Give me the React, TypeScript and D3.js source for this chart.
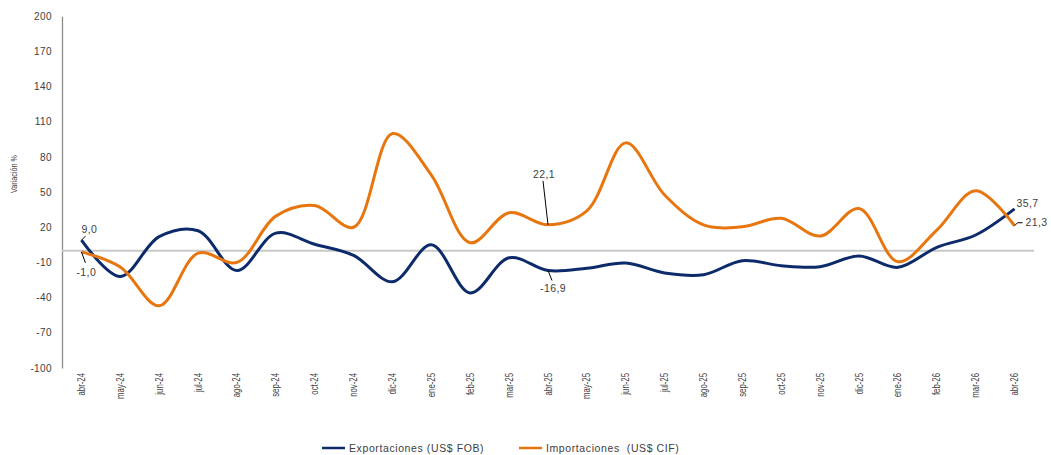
import React, { useEffect, useRef } from "react";
import * as d3 from "d3";

const months = [
  "abr-24", "may-24", "jun-24", "jul-24", "ago-24", "sep-24", "oct-24", "nov-24", "dic-24",
  "ene-25", "feb-25", "mar-25", "abr-25", "may-25", "jun-25", "jul-25", "ago-25", "sep-25",
  "oct-25", "nov-25", "dic-25", "ene-26", "feb-26", "mar-26", "abr-26",
];

const exportaciones = [
  9.0, -22, 12, 17, -17, 15, 5.5, -4, -26.5, 5, -36, -6, -16.9, -15, -10.5, -19,
  -20.5, -8.5, -12.8, -13.6, -4.5, -14.2, 2.9, 13.4, 35.7,
];

const importaciones = [
  -1.0, -14, -47, -2, -10, 29.5, 38.5, 20, 100, 64.5, 6.8, 32.4, 22.1, 34, 92, 47.5,
  22, 20.5, 27.6, 12.5, 36, -9.4, 17.6, 51.2, 21.3,
];

const yTicks = [200, 170, 140, 110, 80, 50, 20, -10, -40, -70, -100];

const seriesNames = ["Exportaciones (US$ FOB)", "Importaciones  (US$ CIF)"];
const seriesColors = ["#0d2b6b", "#e8760f"];

const fmt = (v: number) => v.toFixed(1).replace(".", ",");

export default function App() {
  const ref = useRef<SVGSVGElement>(null);

  useEffect(() => {
    const svg = d3.select(ref.current);
    svg.selectAll("*").remove();
    const font = "'Liberation Sans', Arial, sans-serif";

    const x = d3.scaleBand<string>().domain(months).range([62, 1034]);
    const cx = (m: string) => (x(m) as number) + x.bandwidth() / 2;
    const y = d3.scaleLinear().domain([-100, 200]).range([367.9, 16.3]);

    // y axis
    const yAxis = d3
      .axisLeft(y)
      .tickValues(yTicks)
      .tickSize(0)
      .tickPadding(10)
      .tickFormat((d) => String(d));
    const gy = svg.append("g").attr("transform", "translate(62,0)").call(yAxis);
    gy.select(".domain").attr("stroke", "#8c8c8c").attr("stroke-width", 1.3);
    gy.selectAll("text")
      .attr("font-family", font)
      .attr("font-size", 10)
      .attr("letter-spacing", 0.4)
      .attr("fill", "#404040");

    // y title
    svg
      .append("text")
      .attr("transform", "translate(17,174) rotate(-90) scale(0.8,1)")
      .attr("text-anchor", "middle")
      .attr("font-family", font)
      .attr("font-size", 9)
      .attr("fill", "#404040")
      .text("Variación %");

    // zero line
    svg
      .append("line")
      .attr("x1", 62)
      .attr("x2", 1034)
      .attr("y1", y(0))
      .attr("y2", y(0))
      .attr("stroke", "#c8c8c8")
      .attr("stroke-width", 2);

    // x labels
    svg
      .append("g")
      .selectAll("text")
      .data(months)
      .join("text")
      .attr("transform", (m) => `translate(${cx(m)},373) rotate(-90) scale(0.78,1)`)
      .attr("text-anchor", "end")
      .attr("dy", "0.35em")
      .attr("font-family", font)
      .attr("font-size", 10)
      .attr("fill", "#404040")
      .text((m) => m);

    // lines
    const line = d3
      .line<number>()
      .x((_, i) => cx(months[i]))
      .y((d) => y(d))
      .curve(d3.curveCatmullRom.alpha(0.5));

    [exportaciones, importaciones].forEach((data, k) => {
      svg
        .append("path")
        .datum(data)
        .attr("d", line)
        .attr("fill", "none")
        .attr("stroke", seriesColors[k])
        .attr("stroke-width", 3)
        .attr("stroke-linejoin", "round");
    });

    // data labels
    const lab = svg
      .append("g")
      .attr("font-family", font)
      .attr("font-size", 10.5)
      .attr("letter-spacing", 0.4)
      .attr("fill", "#404040");
    const leader = (x1: number, y1: number, x2: number, y2: number) =>
      lab.append("line").attr("x1", x1).attr("y1", y1).attr("x2", x2).attr("y2", y2)
        .attr("stroke", "#000").attr("stroke-width", 1);

    const first = months[0];
    const last = months[months.length - 1];
    const mid = months[12];
    const nLast = exportaciones.length - 1;

    // 9,0
    {
      const px = cx(first), py = y(exportaciones[0]);
      leader(px, py, px + 4, py - 4);
      lab.append("text").attr("x", px).attr("y", py - 7).text(fmt(exportaciones[0]));
    }
    // -1,0
    {
      const px = cx(first), py = y(importaciones[0]);
      leader(px, py, px + 4, py + 11);
      lab.append("text").attr("x", px - 5).attr("y", py + 24).text(fmt(importaciones[0]));
    }
    // 22,1
    {
      const px = cx(mid), py = y(importaciones[12]);
      leader(px, py, px - 5, py - 44);
      lab.append("text").attr("x", px - 4).attr("y", py - 47).attr("text-anchor", "middle").text(fmt(importaciones[12]));
    }
    // -16,9
    {
      const px = cx(mid), py = y(exportaciones[12]);
      leader(px, py, px + 4, py + 10);
      lab.append("text").attr("x", px + 5).attr("y", py + 21).attr("text-anchor", "middle").text(fmt(exportaciones[12]));
    }
    // 35,7
    {
      const px = cx(last), py = y(exportaciones[nLast]);
      lab.append("text").attr("x", px + 2).attr("y", py - 2).text(fmt(exportaciones[nLast]));
    }
    // 21,3
    {
      const px = cx(last), py = y(importaciones[nLast]);
      leader(px, py, px + 3, py - 3);
      leader(px + 3, py - 3, px + 8, py - 3);
      lab.append("text").attr("x", px + 11).attr("y", py).text(fmt(importaciones[nLast]));
    }

    // legend
    const legend = svg
      .append("g")
      .attr("font-family", font)
      .attr("font-size", 10.5)
      .attr("letter-spacing", 0.6)
      .attr("fill", "#404040");
    const legX = [322, 519];
    seriesNames.forEach((name, k) => {
      legend.append("line")
        .attr("x1", legX[k]).attr("x2", legX[k] + 23)
        .attr("y1", 448).attr("y2", 448)
        .attr("stroke", seriesColors[k]).attr("stroke-width", 2.5);
      legend.append("text")
        .attr("x", legX[k] + 27).attr("y", 448).attr("dy", "0.35em")
        .style("white-space", "pre")
        .text(name);
    });
  }, []);

  return (
    <svg
      ref={ref}
      width={1051}
      height={455}
      style={{ position: "absolute", left: 0, top: 0, background: "#fff", display: "block" }}
    />
  );
}
